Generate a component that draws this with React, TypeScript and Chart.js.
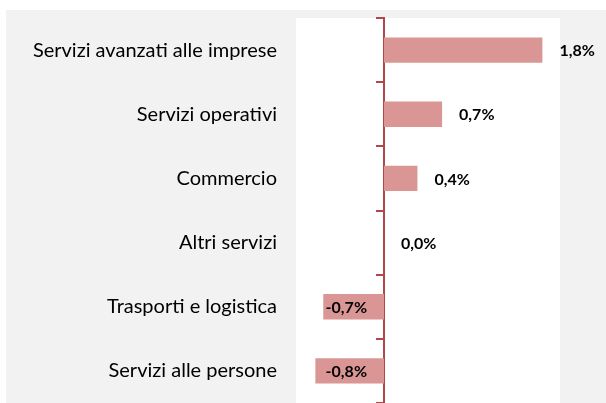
import React, { useEffect, useRef } from "react";
import { Chart, registerables } from "chart.js";

Chart.register(...registerables);

const categories = [
  "Servizi avanzati alle imprese",
  "Servizi operativi",
  "Commercio",
  "Altri servizi",
  "Trasporti e logistica",
  "Servizi alle persone",
];
const values = [1.8, 0.66, 0.38, 0.0, -0.69, -0.78];
const xMin = -1;
const xMax = 2;

const BAR = "#d99694";
const AXIS = "#b0474a";
const FONT = "Lato";

const plotBg = {
  id: "plotBg",
  beforeDraw(chart: any) {
    const { ctx, chartArea } = chart;
    ctx.save();
    ctx.fillStyle = "#ffffff";
    ctx.fillRect(chartArea.left, chartArea.top, chartArea.right - chartArea.left, chartArea.bottom - chartArea.top);
    ctx.restore();
  },
};

const barLabels = {
  id: "barLabels",
  afterDatasetsDraw(chart: any) {
    const { ctx } = chart;
    const xScale = chart.scales.x;
    const zero = xScale.getPixelForValue(0);
    const meta = chart.getDatasetMeta(0);
    ctx.save();
    ctx.font = `bold 16px ${FONT}`;
    ctx.fillStyle = "#000000";
    ctx.textBaseline = "middle";
    meta.data.forEach((bar: any, i: number) => {
      const v = values[i];
      const txt = v.toFixed(1).replace(".", ",") + "%";
      if (v >= 0) {
        ctx.textAlign = "left";
        ctx.fillText(txt, bar.x + 17, bar.y + 1);
      } else {
        ctx.textAlign = "right";
        ctx.fillText(txt, zero - 17, bar.y + 1);
      }
    });
    ctx.restore();
  },
};

export default function App() {
  const ref = useRef<HTMLCanvasElement>(null);
  useEffect(() => {
    if (!ref.current) return;
    const chart = new Chart(ref.current, {
      type: "bar",
      data: {
        labels: categories,
        datasets: [
          {
            data: values,
            backgroundColor: BAR,
            borderWidth: 0,
            barPercentage: 0.395,
            categoryPercentage: 1,
            yAxisID: "y",
            xAxisID: "x",
          },
        ],
      },
      options: {
        indexAxis: "y",
        animation: false,
        responsive: false,
        layout: { padding: { top: 8, right: 46, bottom: 0, left: 0 } },
        plugins: { legend: { display: false }, tooltip: { enabled: false } },
        scales: {
          x: { type: "linear", min: xMin, max: xMax, display: false },
          y: {
            type: "category",
            position: "left",
            grid: { display: false, drawTicks: false },
            border: { display: false },
            ticks: { padding: 19, color: "#000000", font: { family: FONT, size: 20 } },
            afterFit(scale: any) {
              scale.width = 290;
              scale.paddingTop = 0;
              scale.paddingBottom = 0;
            },
          },
          yZero: {
            type: "category",
            axis: "y",
            position: { x: 0 },
            offset: true,
            grid: { drawOnChartArea: false, offset: true, tickLength: 7, color: AXIS, lineWidth: 2 },
            border: { display: true, color: AXIS, width: 2 },
            ticks: { display: false },
          },
        } as any,
      },
      plugins: [plotBg, barLabels],
    });
    return () => chart.destroy();
  }, []);
  return (
    <div style={{ position: "fixed", left: 0, top: 0, width: 606, height: 403, background: "#ffffff" }}>
      <div style={{ position: "absolute", left: 6, top: 10, width: 600, height: 393, background: "#f2f2f2" }}>
        <canvas ref={ref} width={600} height={393} style={{ display: "block" }} />
      </div>
    </div>
  );
}
